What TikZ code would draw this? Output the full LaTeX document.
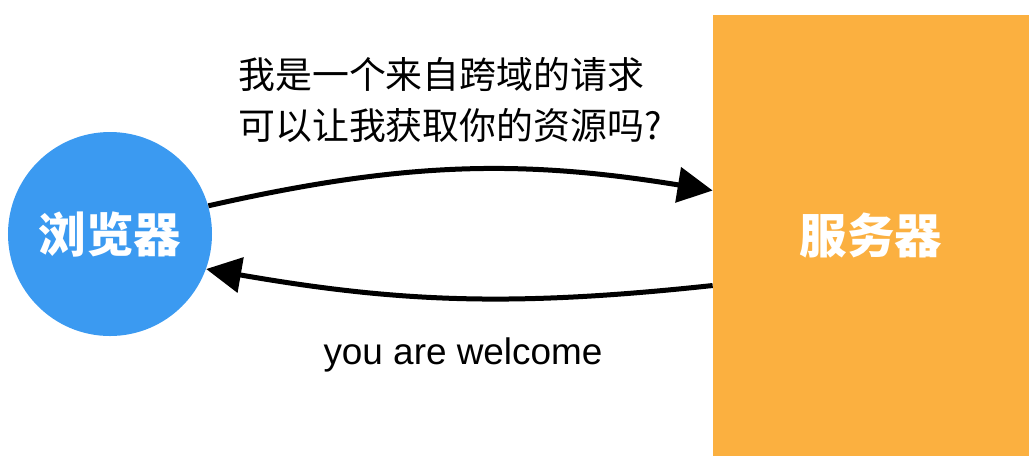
\documentclass[tikz,border=0pt]{standalone}
\usepackage{fontspec}
\setmainfont{Liberation Sans}
\newfontfamily\cjk{Noto Sans CJK SC}
\usepackage{tikz}
\usetikzlibrary{arrows.meta,positioning}

\definecolor{browserblue}{RGB}{59,154,241}
\definecolor{serverorange}{RGB}{251,176,64}

\begin{document}
\begin{tikzpicture}[x=0.2mm,y=-0.2mm,>={Triangle[length=7mm,width=7mm]},shorten >=0pt,
	end/.style={inner sep=0pt,text=white,font=\cjk\bfseries\fontsize{27}{27}\selectfont},
	talk/.style={line width=1mm,->}]
	\useasboundingbox (0,0) rectangle (1035,459);
	\node[end,circle,fill=browserblue,minimum size=40.8mm] (browser) at (110,234) {浏览器};
	\node[end,rectangle,fill=serverorange,minimum width=63.2mm,minimum height=88.2mm] (server) at (871,235.5) {服务器};

	\node[anchor=west,align=left,inner sep=0pt,font=\cjk\fontsize{21}{28.5}\selectfont] (ask) at (238,100)
		{我是一个来自跨域的请求\\可以让我获取你的资源吗?};
	\node[inner sep=0pt,font=\fontsize{21}{21}\selectfont] (reply) at (463,355) {you are welcome};

	\path[talk] (browser.16)  edge [bend left=11] ([yshift=9mm]server.west)
		([yshift=-10mm]server.west) edge [bend left=8] (browser.-20);
\end{tikzpicture}
\end{document}
